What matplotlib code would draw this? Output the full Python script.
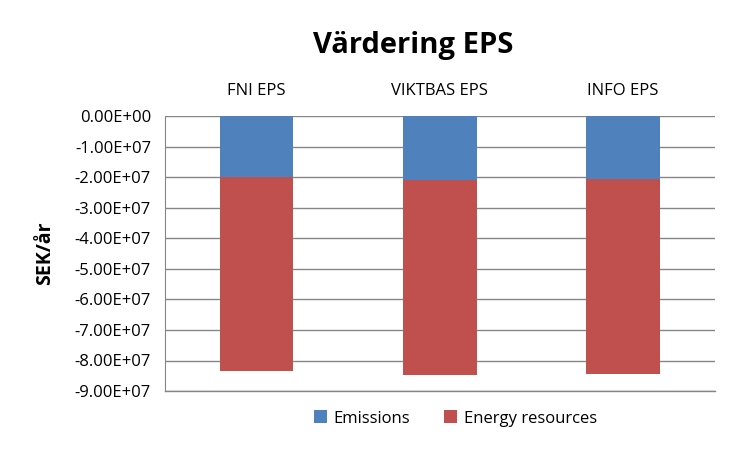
import matplotlib
matplotlib.use("Agg")
import matplotlib.pyplot as plt
import numpy as np

categories = ["FNI EPS", "VIKTBAS EPS", "INFO EPS"]
emissions = [-2.00e7, -2.08e7, -2.05e7]
energy_resources = [-6.34e7, -6.39e7, -6.39e7]
yticks = [0, -1e7, -2e7, -3e7, -4e7, -5e7, -6e7, -7e7, -8e7, -9e7]

plt.rcParams['font.family'] = ['Open Sans', 'DejaVu Sans']

fig = plt.figure(figsize=(7.5, 4.5), dpi=100)
ax = fig.add_axes([0.22, 0.131, 0.733, 0.611])
x = np.arange(len(categories))
w = 0.4
ax.bar(x, emissions, w, color='#4F81BD', label='Emissions', zorder=3)
ax.bar(x, energy_resources, w, bottom=emissions, color='#C0504D', label='Energy resources', zorder=3)

ax.set_xlim(-0.5, 2.5)
ax.set_ylim(-9e7, 0)
ax.set_yticks(yticks)
ax.set_yticklabels([f"{v:.2E}" for v in yticks], fontsize=12)
ax.yaxis.grid(True, color='#868686', linewidth=1, zorder=0)
ax.axhline(-9e7, color='#868686', linewidth=1, clip_on=False, zorder=1)
ax.xaxis.tick_top()
ax.set_xticks(x)
ax.set_xticklabels(categories, fontsize=12)
ax.tick_params(axis='x', length=0, pad=12)
ax.tick_params(axis='y', length=0, pad=10)
for s in ['right', 'bottom', 'top']:
    ax.spines[s].set_visible(False)
ax.spines['left'].set_color('#868686')
ax.set_ylabel("SEK/år", fontsize=14, fontweight='bold', labelpad=14)

fig.text(0.551, 0.9, "Värdering EPS", ha='center', va='center', fontsize=21, fontweight='bold')

fig.legend(loc='center', bbox_to_anchor=(0.607, 0.07), ncol=2, frameon=False, fontsize=12,
           handlelength=0.8, handleheight=0.8, handletextpad=0.4, columnspacing=2.0)

fig.savefig("out.png", dpi=100)
